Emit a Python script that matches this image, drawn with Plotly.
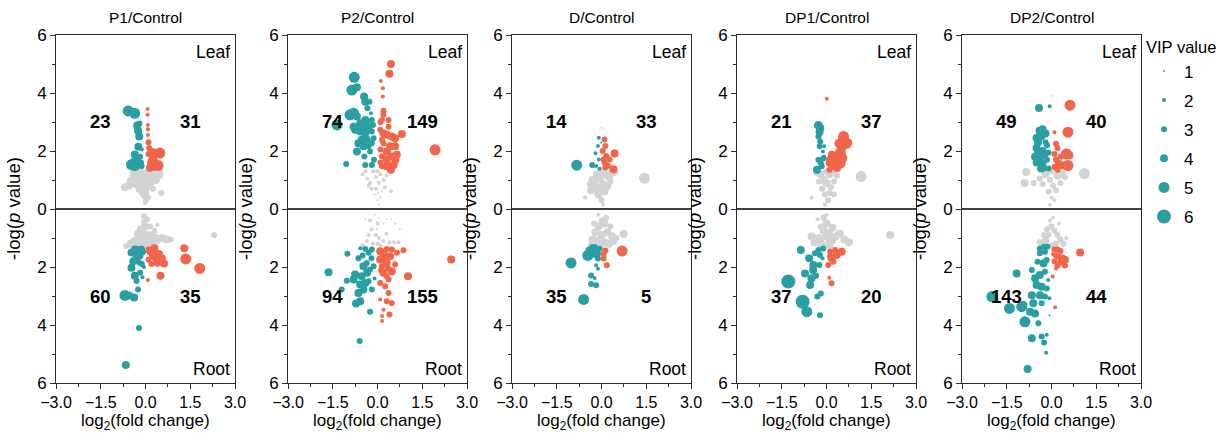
import plotly.graph_objects as go

# ---------------- data ----------------
PANELS = ["P1/Control", "P2/Control", "D/Control", "DP1/Control", "DP2/Control"]
LEAF_DOWN_N = [23, 74, 14, 21, 49]
LEAF_UP_N = [31, 149, 33, 37, 40]
ROOT_DOWN_N = [60, 94, 35, 37, 143]
ROOT_UP_N = [35, 155, 5, 20, 44]
VIP_LEVELS = [1, 2, 3, 4, 5, 6]
Y_TICKS = [-6, -4, -2, 0, 2, 4, 6]
Y_TICK_LABELS = ["6", "4", "2", "0", "2", "4", "6"]

# each point: (log2 fold change, -log p value, VIP)
P1_LEAF_NS = [(-0.69,0.75,4),(-0.55,0.8,4),(-0.45,0.95,5),(-0.35,1.2,5),(-0.25,1.25,5),(-0.15,1.2,5),(-0.05,1.1,4),
              (0.05,1.15,5),(0.15,1.25,5),(0.3,1.2,5),(0.42,1.2,5),(0.53,0.55,3),(-0.3,0.85,4),(-0.2,0.7,4),
              (-0.1,0.9,5),(0.0,0.6,4),(0.1,0.8,4),(0.2,0.95,4),(-0.05,0.45,3),(0.02,0.3,3),(-0.12,0.55,3),
              (0.08,0.4,3),(-0.25,1.0,4),(0.25,0.7,3),(0.35,1.0,4),(-0.02,0.2,2),(0.05,0.95,4),(-0.15,1.0,4)]
P1_LEAF_DOWN = [(-0.58,3.38,5),(-0.45,3.35,4),(-0.36,3.3,5),(-0.28,2.88,4),(-0.25,2.7,4),(-0.21,2.5,4),(-0.24,2.15,4),
                (-0.36,1.88,4),(-0.3,1.72,4),(-0.47,1.53,5),(-0.36,1.5,5),(-0.13,1.48,3),(-0.18,1.8,3),(-0.12,2.05,2),
                (-0.2,2.95,3),(-0.15,1.6,3),(-0.4,1.62,4),(-0.22,2.6,3)]
P1_LEAF_UP = [(0.07,3.45,2),(0.07,3.25,2),(0.08,2.9,2),(0.08,2.75,2),(0.08,2.55,2),(0.1,2.3,3),(0.12,2.1,3),(0.2,2.0,3),
              (0.3,1.95,4),(0.48,1.93,5),(0.42,1.5,5),(0.15,1.42,4),(0.26,1.8,4),(0.2,1.65,4),(0.32,1.6,4),(0.1,1.9,3),
              (0.25,1.45,4),(0.15,1.55,3)]
P1_ROOT_NS = [(-0.65,1.28,3),(-0.5,1.2,4),(-0.35,1.15,5),(-0.2,1.05,5),(-0.1,0.9,5),(0.0,0.6,4),(0.05,0.35,3),
              (-0.05,0.25,3),(0.1,0.9,4),(0.2,1.0,5),(0.35,1.05,5),(0.55,1.0,4),(0.7,1.05,4),(0.85,1.05,3),
              (-0.15,0.7,4),(0.15,0.6,3),(0.3,0.75,3),(0.4,0.55,2),(-0.25,0.85,4),(0.0,1.2,5),(0.15,1.25,5),
              (2.3,0.9,3),(-0.05,0.45,3),(0.25,1.2,4)]
P1_ROOT_DOWN = [(-0.69,2.98,5),(-0.55,2.98,4),(-0.38,3.05,4),(-0.25,2.78,3),(-0.22,4.1,3),(-0.66,5.38,4),(-0.47,2.03,4),
                (-0.36,2.3,4),(-0.3,2.48,3),(-0.41,1.8,4),(-0.47,1.5,4),(-0.2,1.6,4),(-0.08,1.48,3),(-0.35,1.4,4),
                (-0.15,1.4,4),(-0.25,1.55,4),(-0.12,1.9,3),(-0.18,2.2,3),(-0.1,2.35,2),(-0.05,2.0,2),(-0.3,1.7,4),
                (-0.2,1.85,3)]
P1_ROOT_UP = [(0.08,2.45,2),(1.3,1.35,4),(1.35,1.72,5),(1.82,2.05,5),(0.55,1.7,4),(0.62,1.88,4),(0.5,2.3,4),(0.3,1.35,4),
              (0.35,1.7,4),(0.15,1.45,4),(0.1,1.75,3),(0.2,1.9,3),(0.45,1.55,4),(0.25,1.6,4),(0.1,1.4,3),(0.4,1.85,4)]

P2_LEAF_NS = [(-0.5,1.2,2),(-0.35,1.05,2),(-0.25,0.9,2),(-0.15,1.3,2),(-0.05,1.1,2),(0.05,0.9,2),(0.1,1.2,2),(0.2,1.0,2),
              (0.3,1.15,2),(0.45,0.6,2),(-0.1,0.5,1),(0.0,0.3,1),(0.05,0.15,1),(-0.2,0.7,2),(0.15,0.6,1),(0.25,0.75,2),
              (-0.4,1.3,2),(0.4,1.3,2),(-0.05,0.7,2),(0.0,1.3,2),(-0.3,0.8,2),(0.1,0.4,1),(-0.02,0.95,1),(0.02,0.55,1)]
P2_LEAF_DOWN = [(-0.78,4.54,5),(-0.86,4.1,5),(-0.69,4.2,4),(-0.45,3.88,4),(-0.41,3.7,4),(-0.27,3.7,3),(-0.8,3.3,5),
                (-0.92,3.25,5),(-1.36,2.9,5),(-0.69,3.19,4),(-0.58,2.96,4),(-0.41,3.07,4),(-0.36,2.9,4),(-0.8,2.84,4),
                (-0.75,2.73,4),(-0.58,2.67,4),(-0.41,2.61,4),(-0.19,2.67,3),(-0.13,2.44,3),(-0.64,2.27,4),(-0.47,2.16,4),
                (-0.3,2.16,3),(-0.69,1.98,4),(-0.44,1.81,3),(-1.05,1.55,3),(-0.41,1.52,3),(-0.19,1.52,3),(-0.25,1.98,3),
                (-0.19,2.27,3),(-0.36,2.39,4),(-0.53,2.39,4),(-0.19,3.07,3),(-0.22,3.3,2),(-0.34,3.47,3),(-0.5,2.8,4),
                (-0.3,2.75,4),(-0.12,1.7,3),(-0.15,2.9,3)]
P2_LEAF_UP = [(0.45,5.0,4),(0.4,4.66,4),(0.11,4.41,2),(0.18,4.16,2),(0.18,3.88,2),(0.2,3.39,3),(0.2,3.25,3),(0.15,3.07,3),
              (0.82,2.59,4),(0.59,2.44,4),(1.93,2.04,5),(0.31,2.56,4),(0.48,2.5,4),(0.59,2.16,4),(0.65,1.87,4),(0.54,1.52,4),
              (0.31,1.47,4),(0.15,1.81,3),(0.2,2.27,3),(0.42,2.16,4),(0.31,1.98,4),(0.15,1.47,3),(0.09,2.73,3),(0.37,2.84,3),
              (0.2,2.61,4),(0.48,1.81,4),(0.31,1.7,4),(0.15,2.39,3),(0.37,3.07,3),(0.1,2.05,3),(0.1,1.6,3),(0.45,1.35,4),
              (0.6,1.7,4),(0.1,3.0,3)]
P2_ROOT_NS = [(-0.4,0.35,1),(-0.25,0.4,2),(-0.1,0.2,1),(0.0,0.5,2),(0.05,0.3,1),(0.3,0.35,1),(0.45,0.35,1),(0.2,0.5,1),
              (-0.2,0.7,2),(-0.05,0.9,2),(0.05,1.0,2),(0.2,1.1,2),(0.4,1.15,2),(0.55,1.15,2),(0.7,1.15,2),(0.75,0.7,1),
              (-0.35,1.1,2),(-0.5,1.25,2),(-0.15,1.2,2),(0.1,1.25,2),(0.3,0.85,2),(-0.3,0.9,2),(0.6,0.5,1),(0.0,1.2,2),
              (-0.02,0.7,1),(0.02,1.4,1)]
P2_ROOT_DOWN = [(-1.64,2.18,4),(-1.2,2.78,3),(-1.03,2.47,3),(-1.01,1.54,3),(-0.72,3.26,4),(-0.58,3.18,4),(-0.6,4.55,3),
                (-0.25,3.54,3),(-0.64,1.7,3),(-0.75,2.26,4),(-0.53,2.32,4),(-0.41,2.55,4),(-0.58,2.6,4),(-0.8,2.43,4),
                (-0.36,1.86,3),(-0.3,1.51,3),(-0.19,1.4,3),(-0.41,1.38,3),(-0.47,1.97,4),(-0.25,2.09,3),(-0.13,1.97,3),
                (-0.58,1.35,2),(-0.19,2.78,3),(-0.3,2.49,3),(-0.47,2.78,4),(-0.64,2.9,4),(-0.35,2.2,4),(-0.2,1.7,3),
                (-0.5,1.6,3),(-0.1,2.4,2)]
P2_ROOT_UP = [(2.47,1.74,4),(1.02,2.32,4),(0.87,1.42,3),(0.15,3.86,2),(0.15,3.69,2),(0.4,3.64,3),(0.48,3.24,3),(0.31,3.18,3),
              (0.37,2.9,3),(0.26,2.66,3),(0.09,2.55,3),(0.37,2.43,3),(0.2,2.2,4),(0.48,2.15,4),(0.59,1.91,3),(0.31,1.86,4),
              (0.09,1.74,4),(0.42,1.63,4),(0.2,1.51,4),(0.48,1.4,3),(0.09,1.46,4),(0.65,1.51,3),(0.31,1.38,3),(0.15,1.97,3),
              (0.31,2.32,3),(0.09,3.12,2),(0.2,3.47,2),(0.25,1.7,4),(0.12,2.1,3),(0.35,2.05,3)]

P3_LEAF_NS = [(1.44,1.06,5),(-0.55,0.4,2),(-0.35,0.65,4),(-0.25,0.9,4),(-0.15,1.2,4),(-0.05,1.05,4),(0.05,0.85,4),
              (0.15,1.2,4),(0.25,1.1,4),(0.35,1.25,4),(0.45,1.25,3),(-0.1,0.5,4),(0.0,0.3,3),(0.1,0.6,4),(-0.2,0.7,4),
              (0.2,0.8,4),(0.05,0.15,2),(-0.05,0.75,4),(0.3,0.95,3),(-0.3,1.0,4),(0.0,1.3,4),(-0.4,0.85,3),(0.0,2.8,1)]
P3_LEAF_DOWN = [(-0.83,1.51,5),(-0.31,1.52,3),(-0.2,1.92,2),(-0.09,2.46,2),(-0.12,2.17,2),(-0.09,1.71,2),(-0.07,1.39,2),
                (-0.01,2.29,1),(-0.18,1.48,2)]
P3_LEAF_UP = [(0.1,2.4,3),(0.13,2.17,3),(0.44,1.91,4),(0.16,1.83,3),(0.1,1.6,3),(0.21,1.49,3),(0.4,1.37,4),(0.04,2.0,3),
              (0.13,1.43,3),(0.07,1.71,3),(0.27,1.71,3)]
P3_ROOT_NS = [(0.74,0.86,4),(-0.1,0.2,2),(0.0,0.4,3),(-0.1,0.6,4),(0.1,0.5,4),(-0.2,0.8,4),(0.0,0.9,4),(0.2,0.8,4),
              (0.3,0.6,3),(0.35,0.95,4),(0.4,1.1,4),(-0.3,1.05,4),(-0.15,1.1,4),(0.1,1.15,4),(0.25,1.2,4),(-0.05,1.3,4),
              (0.15,0.3,3),(-0.25,0.5,3),(0.5,1.0,3),(-0.35,1.25,3)]
P3_ROOT_DOWN = [(-1.02,1.86,5),(-0.6,3.12,5),(-0.46,1.6,5),(-0.23,1.54,4),(-0.12,1.71,3),(-0.35,2.29,3),(-0.23,2.38,2),
                (-0.35,2.59,3),(-0.18,2.63,3),(-0.12,2.06,2),(-0.18,1.94,2),(-0.31,1.31,3),(-0.23,1.31,3),(-0.07,1.37,3),
                (-0.4,1.43,4),(-0.29,1.49,4),(-0.12,1.54,3)]
P3_ROOT_UP = [(0.69,1.45,5),(0.07,1.71,3),(0.18,1.94,3),(0.13,1.43,3),(0.07,1.54,3)]

P4_LEAF_NS = [(1.16,1.12,5),(-0.35,1.25,3),(-0.5,0.4,2),(-0.2,1.2,4),(-0.1,1.0,4),(0.0,0.9,4),(0.1,1.2,4),(0.2,1.3,4),
              (0.35,1.15,3),(-0.05,0.5,3),(0.05,0.3,3),(-0.15,0.7,3),(0.15,0.75,3),(0.25,0.5,3),(-0.05,0.15,2),
              (0.1,0.55,3),(0.0,1.3,3),(-0.25,0.95,3),(0.25,0.95,3)]
P4_LEAF_DOWN = [(-0.27,2.9,4),(-0.21,2.79,4),(-0.23,2.61,3),(-0.27,2.5,3),(-0.21,2.33,3),(-0.23,2.16,3),(-0.08,2.16,2),
                (-0.12,1.98,2),(-0.08,1.81,2),(-0.27,1.7,3),(-0.19,1.58,3),(-0.32,1.35,4),(-0.16,1.47,3),(-0.1,1.75,3),
                (-0.23,2.67,4),(-0.32,2.87,3)]
P4_LEAF_UP = [(0.01,3.8,2),(0.57,2.39,5),(0.68,2.27,5),(0.51,2.16,5),(0.46,1.93,5),(0.51,1.75,5),(0.46,1.58,5),(0.35,1.41,4),
              (0.18,1.47,4),(0.12,1.7,4),(0.18,1.87,4),(0.07,1.58,3),(0.1,1.35,3),(0.29,1.7,4),(0.57,2.5,5),(0.4,2.27,4)]
P4_ROOT_NS = [(2.13,0.9,4),(-0.3,0.35,2),(-0.1,0.3,3),(0.0,0.5,4),(-0.1,0.75,4),(0.05,0.9,5),(-0.25,1.05,5),(-0.4,1.15,4),
              (-0.5,0.95,4),(0.15,1.05,5),(0.3,0.95,4),(0.45,0.85,4),(0.6,1.05,4),(0.75,1.15,4),(0.2,0.65,4),(-0.2,0.6,3),
              (0.0,0.2,2),(0.1,1.25,4),(-0.15,1.25,4)]
P4_ROOT_DOWN = [(-1.28,2.5,6),(-0.86,1.41,4),(-0.58,1.7,4),(-0.44,1.93,4),(-0.72,2.22,4),(-0.55,2.62,4),(-0.5,2.39,4),
                (-0.8,3.2,6),(-0.66,3.54,5),(-0.22,3.66,3),(-0.19,2.91,3),(-0.31,3.02,3),(-0.24,1.93,3),(-0.22,1.59,3),
                (-0.13,1.7,2),(-0.27,1.41,3),(-0.11,1.36,3),(-0.39,1.53,3),(-0.45,2.1,4),(-0.35,2.3,3)]
P4_ROOT_UP = [(0.17,2.56,3),(0.09,2.37,2),(0.06,1.93,3),(0.17,1.7,4),(0.34,1.59,4),(0.51,1.47,4),(0.29,1.41,3),(0.12,1.47,3),
              (0.23,1.82,3),(0.12,1.64,3)]

P5_LEAF_NS = [(1.1,1.22,5),(-0.85,1.28,4),(-0.9,0.9,4),(-0.6,0.9,3),(-0.4,1.05,3),(-0.2,1.2,4),(-0.05,1.0,3),(0.05,0.8,3),
              (0.2,1.15,4),(0.35,1.2,4),(0.45,1.1,3),(-0.1,0.6,3),(0.0,0.4,2),(0.1,0.3,2),(-0.05,0.15,2),(0.15,0.65,3),
              (0.3,0.9,3),(-0.3,0.85,3),(0.0,1.3,3),(0.0,3.9,1)]
P5_LEAF_DOWN = [(-0.42,3.48,4),(-0.06,3.54,2),(-0.5,2.45,4),(-0.4,2.7,4),(-0.3,2.75,4),(-0.2,2.6,4),(-0.35,2.5,4),
                (-0.5,2.1,4),(-0.45,1.95,4),(-0.55,1.8,4),(-0.3,2.0,4),(-0.25,1.85,4),(-0.4,1.7,4),(-0.5,1.6,4),
                (-0.3,1.55,4),(-0.15,1.7,3),(-0.15,2.2,3),(-0.1,1.4,3),(-0.35,1.4,4),(-0.2,2.3,3),(-0.45,2.3,4),
                (-0.1,1.95,3),(-0.25,1.4,3)]
P5_LEAF_UP = [(0.62,3.58,5),(0.55,2.65,5),(0.1,2.65,2),(0.5,1.9,5),(0.6,1.85,4),(0.55,1.5,5),(0.15,2.25,3),(0.2,2.1,3),
              (0.1,1.9,3),(0.15,1.7,3),(0.25,1.55,4),(0.1,1.45,3),(0.35,1.5,4),(0.2,1.35,3),(0.3,1.8,3)]
P5_ROOT_NS = [(-0.2,1.1,4),(-0.3,1.25,3),(-0.1,0.9,3),(0.0,0.6,3),(0.05,0.3,2),(-0.05,0.4,2),(0.1,0.75,3),(0.2,0.9,3),
              (0.3,1.05,3),(0.4,1.2,3),(0.5,1.0,2),(0.15,1.2,3),(-0.15,0.7,3),(0.25,0.5,2),(-0.25,0.9,3),(0.0,1.25,3),
              (-0.4,1.15,3)]
P5_ROOT_DOWN = [(-2.0,3.02,5),(-1.41,3.43,5),(-1.17,2.22,4),(-0.89,3.89,5),(-1.0,3.37,5),(-0.66,4.46,4),(-0.8,5.52,4),
                (-0.44,3.94,3),(-0.33,4.4,3),(-0.25,4.6,3),(-0.18,4.96,2),(-0.16,4.34,2),(-0.07,3.66,1),(-0.55,3.6,4),
                (-0.72,3.54,4),(-0.94,3.31,4),(-0.61,3.25,4),(-0.66,2.97,4),(-0.33,3.25,3),(-0.39,2.97,4),(-0.22,3.02,3),
                (-0.5,2.62,4),(-0.33,2.68,4),(-0.16,2.74,3),(-0.55,2.39,4),(-0.39,2.28,4),(-0.22,2.16,3),(-0.66,2.1,3),
                (-0.47,1.82,3),(-0.27,1.87,4),(-0.16,1.76,3),(-0.39,1.53,3),(-0.22,1.47,3),(-0.14,1.3,3),(-0.39,1.36,3),
                (-0.11,2.45,2),(-0.07,3.08,2),(-0.25,1.3,3)]
P5_ROOT_UP = [(0.96,1.5,4),(0.12,3.39,2),(0.04,2.33,2),(0.1,1.4,3),(0.2,1.4,3),(0.3,1.45,3),(0.15,1.6,3),(0.25,1.65,3),
              (0.35,1.7,4),(0.1,1.8,3),(0.2,1.95,3),(0.45,1.75,4),(0.45,1.95,3),(0.3,1.85,3),(0.05,1.55,2),(0.15,2.05,2)]

PANEL_DATA = [
    (P1_LEAF_NS, P1_LEAF_DOWN, P1_LEAF_UP, P1_ROOT_NS, P1_ROOT_DOWN, P1_ROOT_UP),
    (P2_LEAF_NS, P2_LEAF_DOWN, P2_LEAF_UP, P2_ROOT_NS, P2_ROOT_DOWN, P2_ROOT_UP),
    (P3_LEAF_NS, P3_LEAF_DOWN, P3_LEAF_UP, P3_ROOT_NS, P3_ROOT_DOWN, P3_ROOT_UP),
    (P4_LEAF_NS, P4_LEAF_DOWN, P4_LEAF_UP, P4_ROOT_NS, P4_ROOT_DOWN, P4_ROOT_UP),
    (P5_LEAF_NS, P5_LEAF_DOWN, P5_LEAF_UP, P5_ROOT_NS, P5_ROOT_DOWN, P5_ROOT_UP),
]

# ---------------- style ----------------
W, H = 1223, 433
TEAL = "#2A9FA3"
ORANGE = "#F1664A"
GRAY = "#D3D3D3"
AXIS_COLOR = "#2b2b2b"
FONT = "Arial, Liberation Sans, sans-serif"
VIP_SIZE = {1: 2, 2: 4, 3: 6, 4: 8, 5: 11, 6: 14}
PANEL_LEFT_PX = [56, 288, 512, 737, 962]
PANEL_W_PX = 179
PLOT_TOP_PX, PLOT_BOTTOM_PX = 35, 383

fig = go.Figure()
layout = dict(
    width=W, height=H, margin=dict(l=0, r=0, t=0, b=0, autoexpand=False),
    paper_bgcolor="white", plot_bgcolor="white",
    font=dict(family=FONT, color="black"),
    showlegend=True,
)
annotations = []
shapes = []

def add_points(pts, sign, color, axn):
    xa = "x" if axn == 1 else f"x{axn}"
    ya = "y" if axn == 1 else f"y{axn}"
    fig.add_trace(go.Scatter(
        x=[p[0] for p in pts], y=[sign * p[1] for p in pts], mode="markers",
        marker=dict(size=[VIP_SIZE[p[2]] for p in pts], color=color, line=dict(width=0), opacity=1),
        xaxis=xa, yaxis=ya, showlegend=False, hoverinfo="skip"))

ydom = [1 - PLOT_BOTTOM_PX / H, 1 - PLOT_TOP_PX / H]
for i, name in enumerate(PANELS):
    n = i + 1
    sfx = "" if n == 1 else str(n)
    x0 = PANEL_LEFT_PX[i]
    xdom = [x0 / W, (x0 + PANEL_W_PX) / W]
    leaf_ns, leaf_dn, leaf_up, root_ns, root_dn, root_up = PANEL_DATA[i]
    for pts, sign, col in [(leaf_ns, 1, GRAY), (root_ns, -1, GRAY),
                           (leaf_dn, 1, TEAL), (leaf_up, 1, ORANGE),
                           (root_dn, -1, TEAL), (root_up, -1, ORANGE)]:
        add_points(pts, sign, col, n)

    layout["xaxis" + sfx] = dict(
        domain=xdom, range=[-3, 3], anchor="y" + sfx, automargin=False,
        tickmode="linear", tick0=-3, dtick=1.5, tickformat=".1f",
        ticks="outside", ticklen=5, tickwidth=1, tickcolor=AXIS_COLOR, ticklabelstandoff=0,
        minor=dict(tickmode="linear", tick0=-3, dtick=0.75, ticks="outside", ticklen=3, tickcolor=AXIS_COLOR),
        showline=True, linecolor=AXIS_COLOR, linewidth=1, mirror=True,
        showgrid=False, zeroline=False, tickfont=dict(size=16, family=FONT, color="black"),
    )
    layout["yaxis" + sfx] = dict(
        domain=ydom, range=[-6, 6], anchor="x" + sfx, automargin=False,
        tickmode="array", tickvals=Y_TICKS, ticktext=Y_TICK_LABELS,
        ticks="outside", ticklen=5, tickwidth=1, tickcolor=AXIS_COLOR,
        minor=dict(tickmode="linear", tick0=-6, dtick=1, ticks="outside", ticklen=3, tickcolor=AXIS_COLOR),
        showline=True, linecolor=AXIS_COLOR, linewidth=1, mirror=True,
        showgrid=False, zeroline=False, tickfont=dict(size=17, family=FONT, color="black"),
    )
    xref = "x" + sfx
    yref = "y" + sfx
    # zero line
    shapes.append(dict(type="line", xref=xref + " domain", yref=yref, x0=0, x1=1, y0=0, y1=0,
                       line=dict(color="black", width=1.3)))
    cx = (x0 + PANEL_W_PX / 2) / W
    annotations += [
        dict(text=name, xref="paper", yref="paper", x=cx, y=1 - 18 / H, showarrow=False,
             font=dict(size=15.5), xanchor="center", yanchor="middle"),
        dict(text="Leaf", xref=xref + " domain", yref=yref + " domain", x=0.985, y=0.985,
             showarrow=False, xanchor="right", yanchor="top", font=dict(size=17.5)),
        dict(text="Root", xref=xref + " domain", yref=yref + " domain", x=0.985, y=0.005,
             showarrow=False, xanchor="right", yanchor="bottom", font=dict(size=17.5)),
        dict(text=f"<b>{LEAF_DOWN_N[i]}</b>", xref=xref, yref=yref, x=-1.5, y=3, showarrow=False, font=dict(size=18.5)),
        dict(text=f"<b>{LEAF_UP_N[i]}</b>", xref=xref, yref=yref, x=1.5, y=3, showarrow=False, font=dict(size=18.5)),
        dict(text=f"<b>{ROOT_DOWN_N[i]}</b>", xref=xref, yref=yref, x=-1.5, y=-3, showarrow=False, font=dict(size=18.5)),
        dict(text=f"<b>{ROOT_UP_N[i]}</b>", xref=xref, yref=yref, x=1.5, y=-3, showarrow=False, font=dict(size=18.5)),
        dict(text="-log(<i>p</i> value)", xref="paper", yref="paper", x=(x0 - 42) / W, y=1 - 209 / H,
             textangle=-90, showarrow=False, xanchor="center", yanchor="middle", font=dict(size=18.5)),
        dict(text="log<sub>2</sub>(fold change)", xref="paper", yref="paper", x=cx, y=0,
             showarrow=False, xanchor="center", yanchor="bottom", yshift=-2, font=dict(size=17)),
    ]

# legend entries for VIP sizes
for v in VIP_LEVELS:
    fig.add_trace(go.Scatter(x=[None], y=[None], mode="markers", name=str(v), legendgroup=str(v),
                             marker=dict(size=VIP_SIZE[v], color=TEAL, line=dict(width=0)),
                             xaxis="x5", yaxis="y5", showlegend=True))

layout["legend"] = dict(
    title=dict(text="VIP value", font=dict(size=16.5)),
    x=1144 / W, y=1 - 32 / H, xanchor="left", yanchor="top",
    font=dict(size=17), bgcolor="rgba(0,0,0,0)", borderwidth=0,
    tracegroupgap=4, itemsizing="trace",
)
layout["annotations"] = annotations
layout["shapes"] = shapes
fig.update_layout(**layout)
fig.write_html("out.html", config={"displayModeBar": False},
               post_script="document.body.style.margin='0px';document.body.style.overflow='hidden';")
